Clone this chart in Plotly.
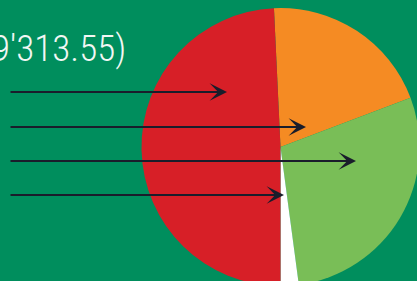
import plotly.graph_objects as go

# ---- data ----
slice_labels = ["Orange", "Green", "White", "Red"]
slice_values = [20.0, 28.64, 2.11, 49.25]
slice_colors = ["#F58B23", "#79BE57", "#FFFFFF", "#D71F27"]
amount_text = "9'313.55)"

# ---- layout geometry (pixels in figure space) ----
W, H = 440, 300
cx, cy, r = 280.5, 147, 139
BG = "#008E5D"
ARROW = "#1A1D2B"

fig = go.Figure()
fig.add_trace(go.Pie(
    labels=slice_labels,
    values=slice_values,
    marker=dict(colors=slice_colors, line=dict(width=0)),
    sort=False,
    direction="clockwise",
    rotation=-2.7,
    textinfo="none",
    hoverinfo="none",
    showlegend=False,
    domain=dict(x=[(cx - r) / W, (cx + r) / W], y=[1 - (cy + r) / H, 1 - (cy - r) / H]),
))

# invisible pixel-space axes for decorations
fig.update_xaxes(range=[0, W], visible=False, fixedrange=True)
fig.update_yaxes(range=[H, 0], visible=False, fixedrange=True)

arrow_tips = [(227, 92), (306, 127), (356, 161), (284, 195)]
for tx, ty in arrow_tips:
    fig.add_annotation(
        x=tx, y=ty, xref="x", yref="y",
        ax=9, ay=ty, axref="x", ayref="y",
        text="", showarrow=True,
        arrowhead=3, arrowsize=1.45, arrowwidth=2, arrowcolor=ARROW,
        standoff=0, startstandoff=0,
    )

fig.add_annotation(
    x=128, y=48, xref="x", yref="y",
    text=amount_text, showarrow=False,
    xanchor="right", yanchor="middle",
    font=dict(family="Roboto Condensed", size=37, color="#F2F7F4", weight=300),
)

fig.update_layout(
    width=W, height=H,
    margin=dict(l=0, r=0, t=0, b=0),
    paper_bgcolor=BG, plot_bgcolor=BG,
)

fig.write_html(
    "out.html",
    config={"displayModeBar": False, "staticPlot": True},
    post_script="document.body.style.margin='0';document.body.style.overflow='hidden';",
)
